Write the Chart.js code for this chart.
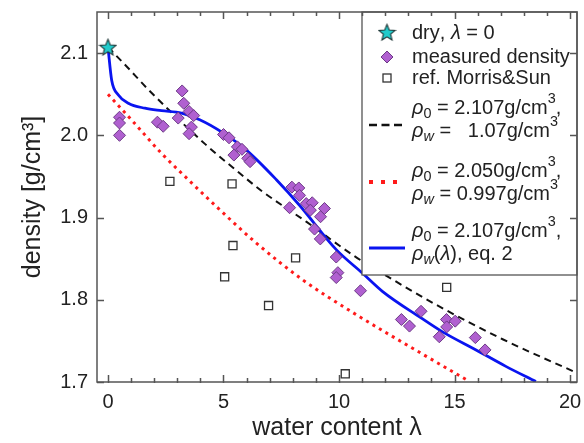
<!DOCTYPE html>
<html lang="en">
<head>
<meta charset="UTF-8">
<title>Density vs water content</title>
<script src="https://cdn.jsdelivr.net/npm/chart.js"></script>
<style>
  html, body { margin: 0; padding: 0; background: #fff; }
  #wrap { width: 584px; height: 443px; }
</style>
</head>
<body>
<div id="wrap"><canvas id="chart"></canvas></div>
<script>
// dry membrane, lambda = 0
const dryX = [0];
const dryY = [2.107];

// measured density
const measX = [0.5, 0.5, 0.5, 2.14, 2.39, 3.04, 3.21, 3.28, 3.51, 3.71, 3.61, 3.51, 5.0, 5.24, 5.6, 5.8, 5.45,
  6.05, 6.15, 7.96, 8.26, 8.29, 8.58, 8.84, 8.76, 7.86, 9.37, 9.2, 8.94, 9.19, 9.88, 9.95, 9.88, 10.93,
  13.55, 12.7, 13.05, 14.65, 15.03, 14.66, 14.34, 15.9, 16.32];
const measY = [2.022, 2.015, 2.000, 2.016, 2.011, 2.021, 2.054, 2.039, 2.029, 2.024, 2.010, 2.002, 2.001, 1.997, 1.986, 1.983, 1.976,
  1.972, 1.968, 1.937, 1.936, 1.927, 1.917, 1.918, 1.909, 1.912, 1.911, 1.901, 1.886, 1.874, 1.852, 1.833, 1.827, 1.811,
  1.786, 1.776, 1.768, 1.776, 1.774, 1.767, 1.755, 1.754, 1.739];

// ref. Morris & Sun
const refX = [2.68, 5.37, 5.41, 5.05, 6.95, 8.12, 10.27, 14.66];
const refY = [1.944, 1.941, 1.866, 1.828, 1.793, 1.851, 1.710, 1.815];

// rho0 = 2.107, rhow = 1.07
const blackX = [0, 0.7, 1.77, 4.22, 5.44, 6.67, 8.58, 10.67, 12, 14.2, 17.08, 20.3];
const blackY = [2.107, 2.087, 2.055, 1.989, 1.960, 1.932, 1.895, 1.853, 1.830, 1.794, 1.752, 1.711];

// rho0 = 2.050, rhow = 0.997
const redX = [0, 1.09, 2.32, 3.33, 4.48, 6.42, 8.44, 10.74, 13.55, 15.5];
const redY = [2.05, 2.0165, 1.978, 1.950, 1.919, 1.869, 1.824, 1.782, 1.735, 1.703];

// rho0 = 2.107, rhow(lambda), eq. 2
const blueX = [0, 0.16, 0.45, 0.88, 1.6, 2.32, 3.18, 3.97, 4.98, 5.99, 7.29, 8.29, 9.88, 11.03, 11.89, 13.55, 14.48, 15.93, 17.22, 18.52];
const blueY = [2.107, 2.067, 2.049, 2.039, 2.033, 2.030, 2.027, 2.019, 2.003, 1.982, 1.946, 1.915, 1.861, 1.832, 1.810, 1.778, 1.761, 1.739, 1.719, 1.7005];

const xTicks = [0, 5, 10, 15, 20];
const yTicks = [1.7, 1.8, 1.9, 2.0, 2.1];

// legend text: *..* italic, _x subscript, ^x superscript
const legendLabels = [
  ['dry, *λ* = 0'],
  ['measured density'],
  ['ref. Morris&Sun'],
  ['*ρ*_0 = 2.107g/cm^3,', '*ρ_w* =   1.07g/cm^3'],
  ['*ρ*_0 = 2.050g/cm^3,', '*ρ_w* = 0.997g/cm^3'],
  ['*ρ*_0 = 2.107g/cm^3,', '*ρ_w*(*λ*), eq. 2']
];

const FONT = "'Liberation Sans', Arial, sans-serif";
const pts = (xs, ys) => xs.map((x, i) => ({ x: x, y: ys[i] }));

// filled five point star
const star = document.createElement('canvas');
star.width = 19; star.height = 19;
(function () {
  const c = star.getContext('2d');
  c.beginPath();
  for (let i = 0; i < 10; i++) {
    const r = i % 2 ? 3.8 : 8.6;
    const a = -Math.PI / 2 + i * Math.PI / 5;
    c.lineTo(9.5 + r * Math.cos(a), 10 + r * Math.sin(a));
  }
  c.closePath();
  c.fillStyle = '#22cccc';
  c.fill();
  c.lineWidth = 1.1;
  c.strokeStyle = '#1c3434';
  c.stroke();
})();

function drawRich(ctx, str, x, y, size) {
  let italic = false;
  for (let i = 0; i < str.length; i++) {
    let ch = str[i];
    if (ch === '*') { italic = !italic; continue; }
    let mode = '';
    if (ch === '_' || ch === '^') { mode = ch; ch = str[++i]; }
    const fs = mode ? size * 0.72 : size;
    const dy = mode === '_' ? size * 0.3 : mode === '^' ? -size * 0.45 : 0;
    ctx.font = (italic ? 'italic ' : '') + fs + 'px ' + FONT;
    ctx.fillText(ch, x, y + dy);
    x += ctx.measureText(ch).width;
  }
}

const legendBox = {
  id: 'legendBox',
  afterDatasetsDraw(chart) {
    const { ctx, chartArea: a } = chart;
    const left = a.right - 215, top = a.top, bottom = a.top + 263;
    ctx.save();
    ctx.fillStyle = '#fff';
    ctx.fillRect(left, top, a.right - left, bottom - top);
    ctx.strokeStyle = '#555';
    ctx.lineWidth = 1.3;
    ctx.strokeRect(left, top, a.right - left, bottom - top);

    const symX = left + 25, txtX = left + 50;
    const symY = [33, 57, 78, 125, 182, 248];
    const rowY = [[33], [57], [78], [108, 131], [171, 194], [231, 254]];

    ctx.drawImage(star, symX - 9.5, symY[0] - 10);
    ctx.fillStyle = '#b060d0'; ctx.strokeStyle = '#6c3a86'; ctx.lineWidth = 1;
    ctx.beginPath();
    ctx.moveTo(symX, symY[1] - 6); ctx.lineTo(symX + 6, symY[1]); ctx.lineTo(symX, symY[1] + 6); ctx.lineTo(symX - 6, symY[1]);
    ctx.closePath(); ctx.fill(); ctx.stroke();
    ctx.fillStyle = '#fff'; ctx.strokeStyle = '#333'; ctx.lineWidth = 1.3;
    ctx.fillRect(symX - 4, symY[2] - 4, 8, 8); ctx.strokeRect(symX - 4, symY[2] - 4, 8, 8);

    const lineSym = [
      { y: symY[3], color: '#111', w: 2.5, dash: [8, 4.5] },
      { y: symY[4], color: '#ff1a1a', w: 4, dash: [4, 8] },
      { y: symY[5], color: '#0a14f0', w: 2.8, dash: [] }
    ];
    lineSym.forEach(s => {
      ctx.beginPath();
      ctx.setLineDash(s.dash);
      ctx.strokeStyle = s.color; ctx.lineWidth = s.w;
      ctx.moveTo(left + 7, s.y); ctx.lineTo(left + 43, s.y);
      ctx.stroke();
    });
    ctx.setLineDash([]);

    ctx.fillStyle = '#222';
    ctx.textBaseline = 'middle';
    ctx.textAlign = 'left';
    legendLabels.forEach((lines, r) => {
      lines.forEach((t, k) => drawRich(ctx, t, txtX, rowY[r][k], 20));
    });
    ctx.restore();
  }
};

const frameTicks = {
  id: 'frameTicks',
  afterDraw(chart) {
    const { ctx, chartArea: a, scales: { x, y } } = chart;
    ctx.save();
    ctx.strokeStyle = '#555';
    ctx.lineWidth = 1.5;
    ctx.strokeRect(a.left, a.top, a.right - a.left, a.bottom - a.top);
    ctx.beginPath();
    for (let v = 0; v <= 20; v++) {
      const px = Math.round(x.getPixelForValue(v)) + 0.5;
      const len = v % 5 === 0 ? 7 : 4;
      ctx.moveTo(px, a.bottom + 1); ctx.lineTo(px, a.bottom - len);
      ctx.moveTo(px, a.top); ctx.lineTo(px, a.top + len);
    }
    yTicks.forEach(v => {
      const py = Math.round(y.getPixelForValue(v)) + 0.5;
      ctx.moveTo(a.left, py); ctx.lineTo(a.left + 7, py);
      ctx.moveTo(a.right, py); ctx.lineTo(a.right - 7, py);
    });
    ctx.stroke();
    ctx.restore();
  }
};

new Chart(document.getElementById('chart'), {
  type: 'scatter',
  data: {
    datasets: [
      { label: 'dry', data: pts(dryX, dryY), pointStyle: star, order: 0 },
      { label: 'measured density', data: pts(measX, measY), pointStyle: 'rectRot', pointRadius: 6,
        backgroundColor: '#b060d0', borderColor: '#6c3a86', borderWidth: 1, order: 1 },
      { label: 'ref. Morris&Sun', data: pts(refX, refY), pointStyle: 'rect', pointRadius: 5.7,
        backgroundColor: '#fff', borderColor: '#333', borderWidth: 1.3, order: 2 },
      { label: 'eq. 2', data: pts(blueX, blueY), showLine: true, pointRadius: 0, borderColor: '#0a14f0',
        borderWidth: 2.8, cubicInterpolationMode: 'monotone', order: 3 },
      { label: 'rhow 1.07', data: pts(blackX, blackY), showLine: true, pointRadius: 0, borderColor: '#111',
        borderWidth: 2, borderDash: [7, 5], cubicInterpolationMode: 'monotone', order: 4 },
      { label: 'rhow 0.997', data: pts(redX, redY), showLine: true, pointRadius: 0, borderColor: '#ff1a1a',
        borderWidth: 3, borderDash: [3, 4.5], cubicInterpolationMode: 'monotone', order: 5 }
    ]
  },
  options: {
    responsive: true,
    maintainAspectRatio: false,
    animation: false,
    layout: { padding: { top: 12, right: 6, left: 0, bottom: 0 } },
    plugins: { legend: { display: false }, tooltip: { enabled: false } },
    scales: {
      x: {
        type: 'linear', min: -0.475, max: 20.3,
        afterBuildTicks: s => { s.ticks = xTicks.map(v => ({ value: v })); },
        afterFit: s => { s.height = 61; s.paddingLeft = 0; s.paddingRight = 0; },
        grid: { display: false, drawTicks: false },
        border: { display: false },
        ticks: { font: { size: 20, family: FONT }, color: '#222', padding: 8 },
        title: { display: true, text: 'water content λ', font: { size: 25, family: FONT }, color: '#222', padding: 0 }
      },
      y: {
        type: 'linear', min: 1.7, max: 2.15,
        afterBuildTicks: s => { s.ticks = yTicks.map(v => ({ value: v })); },
        afterFit: s => { s.width = 97; s.paddingTop = 0; s.paddingBottom = 0; },
        grid: { display: false, drawTicks: false },
        border: { display: false },
        ticks: { font: { size: 20, family: FONT }, color: '#222', padding: 9, callback: v => v.toFixed(1) },
        title: { display: true, text: 'density [g/cm³]', font: { size: 25, family: FONT }, color: '#222', padding: { top: 18 } }
      }
    }
  },
  plugins: [legendBox, frameTicks]
});
</script>
</body>
</html>
